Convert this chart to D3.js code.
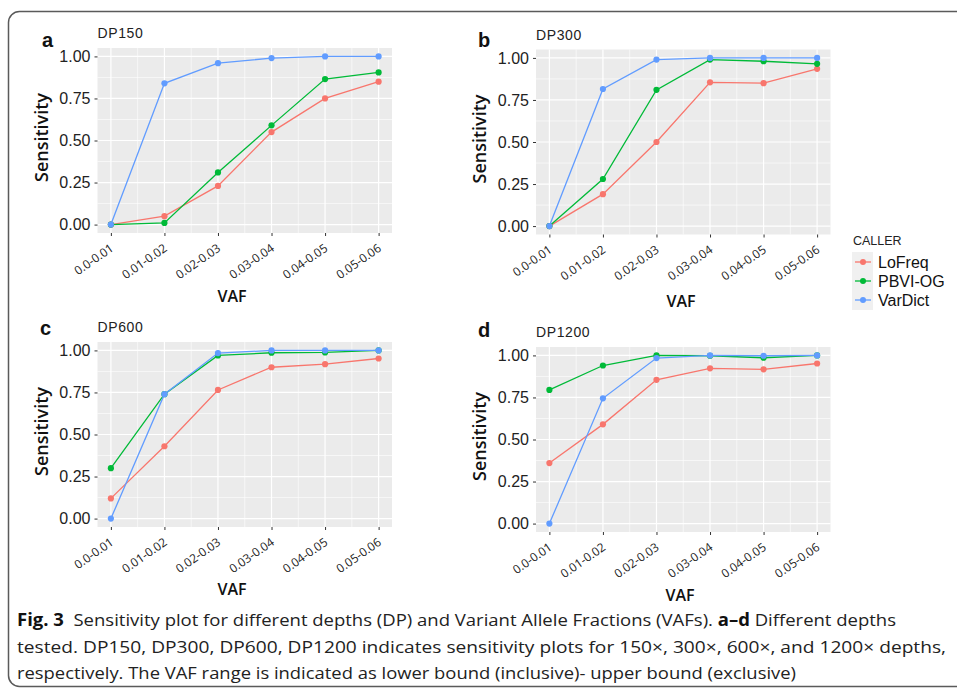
<!DOCTYPE html>
<html>
<head>
<meta charset="utf-8">
<script src="https://cdn.jsdelivr.net/npm/d3@7"></script>
<style>
body { margin: 0; background: #fff; }
svg { display: block; }
</style>
</head>
<body>
<svg width="957" height="691"></svg>
<script>
// categories and values
const vafBins = ["0.0-0.01", "0.01-0.02", "0.02-0.03", "0.03-0.04", "0.04-0.05", "0.05-0.06"];
const callers = ["LoFreq", "PBVI-OG", "VarDict"];
const yTicks = [0, 0.25, 0.5, 0.75, 1];

const dp150LoFreq = [0, 0.05, 0.23, 0.55, 0.75, 0.85];
const dp150Pbvi = [0, 0.01, 0.31, 0.59, 0.865, 0.905];
const dp150VarDict = [0, 0.84, 0.96, 0.99, 1.0, 1.0];

const dp300LoFreq = [0, 0.19, 0.5, 0.855, 0.85, 0.935];
const dp300Pbvi = [0, 0.28, 0.81, 0.99, 0.98, 0.965];
const dp300VarDict = [0, 0.815, 0.99, 1.0, 1.0, 1.0];

const dp600LoFreq = [0.12, 0.43, 0.765, 0.9, 0.918, 0.952];
const dp600Pbvi = [0.3, 0.74, 0.97, 0.986, 0.988, 1.0];
const dp600VarDict = [0, 0.74, 0.984, 1.0, 1.0, 1.0];

const dp1200LoFreq = [0.36, 0.59, 0.855, 0.923, 0.917, 0.952];
const dp1200Pbvi = [0.795, 0.94, 1.0, 0.998, 0.986, 1.0];
const dp1200VarDict = [0, 0.745, 0.984, 1.0, 0.998, 1.0];

const colors = ["#F8766D", "#00BA38", "#619CFF"];

const svg = d3.select("svg");

// figure frame
svg.append("rect")
    .attr("x", 8.5).attr("y", 11.5)
    .attr("width", 1000).attr("height", 675)
    .attr("rx", 11)
    .attr("fill", "none")
    .attr("stroke", "#5a5a5a")
    .attr("stroke-width", 1.5);

const panelW = 294.5, panelH = 185;

const panels = [
    { letter: "a", title: "DP150", series: [dp150LoFreq, dp150Pbvi, dp150VarDict],
      left: 97.5, top: 48, lx: 42, ly: 47, vafX: 232, vafY: 302 },
    { letter: "b", title: "DP300", series: [dp300LoFreq, dp300Pbvi, dp300VarDict],
      left: 536, top: 49.5, lx: 478, ly: 47, vafX: 681, vafY: 307 },
    { letter: "c", title: "DP600", series: [dp600LoFreq, dp600Pbvi, dp600VarDict],
      left: 97.5, top: 342, lx: 40, ly: 335, vafX: 232, vafY: 595 },
    { letter: "d", title: "DP1200", series: [dp1200LoFreq, dp1200Pbvi, dp1200VarDict],
      left: 536, top: 347, lx: 478, ly: 337, vafX: 680, vafY: 601 }
];

function drawPanel(p) {
    const x = d3.scaleLinear().domain([0.75, 6.25]).range([0, panelW]);
    const y = d3.scaleLinear().domain([-0.05, 1.05]).range([panelH, 0]);

    const g = svg.append("g")
        .attr("transform", `translate(${p.left}, ${p.top})`);

    g.append("rect")
        .attr("width", panelW).attr("height", panelH)
        .attr("fill", "#EBEBEB");

    // minor grid
    g.selectAll(".minor-x").data([1.5, 2.5, 3.5, 4.5, 5.5]).enter()
        .append("line")
        .attr("x1", d => x(d)).attr("x2", d => x(d))
        .attr("y1", 0).attr("y2", panelH)
        .attr("stroke", "#fff").attr("stroke-width", 0.6);
    g.selectAll(".minor-y").data([0.125, 0.375, 0.625, 0.875]).enter()
        .append("line")
        .attr("y1", d => y(d)).attr("y2", d => y(d))
        .attr("x1", 0).attr("x2", panelW)
        .attr("stroke", "#fff").attr("stroke-width", 0.6);

    // major grid
    g.selectAll(".major-x").data(d3.range(1, 7)).enter()
        .append("line")
        .attr("x1", d => x(d)).attr("x2", d => x(d))
        .attr("y1", 0).attr("y2", panelH)
        .attr("stroke", "#fff").attr("stroke-width", 1.2);
    g.selectAll(".major-y").data(yTicks).enter()
        .append("line")
        .attr("y1", d => y(d)).attr("y2", d => y(d))
        .attr("x1", 0).attr("x2", panelW)
        .attr("stroke", "#fff").attr("stroke-width", 1.2);

    // axes
    const yAxis = g.append("g")
        .call(d3.axisLeft(y).tickValues(yTicks).tickSize(3).tickPadding(4).tickFormat(d3.format(".2f")));
    yAxis.select(".domain").remove();
    yAxis.selectAll("line").attr("stroke", "#333");
    yAxis.selectAll("text")
        .attr("fill", "#222")
        .style("font-family", "'Liberation Sans', Arial, sans-serif")
        .style("font-size", "16px");

    const xAxis = g.append("g")
        .attr("transform", `translate(0, ${panelH})`)
        .call(d3.axisBottom(x).tickValues(d3.range(1, 7)).tickSize(3).tickFormat(i => vafBins[i - 1]));
    xAxis.select(".domain").remove();
    xAxis.selectAll("line").attr("stroke", "#333");
    xAxis.selectAll("text")
        .attr("x", 0).attr("y", 0).attr("dy", 0)
        .attr("text-anchor", "end")
        .attr("transform", "translate(3, 17) rotate(-35)")
        .attr("fill", "#222")
        .style("font-family", "'Open Sans', sans-serif")
        .style("font-size", "12px");

    // lines and points, drawn in caller order
    const line = d3.line().x((d, i) => x(i + 1)).y(d => y(d));
    p.series.forEach((vals, k) => {
        g.append("path")
            .datum(vals)
            .attr("d", line)
            .attr("fill", "none")
            .attr("stroke", colors[k])
            .attr("stroke-width", 1.3);
        g.selectAll(".pt" + k).data(vals).enter()
            .append("circle")
            .attr("cx", (d, i) => x(i + 1))
            .attr("cy", d => y(d))
            .attr("r", 3.1)
            .attr("fill", colors[k]);
    });

    // titles
    g.append("text")
        .attr("x", 0).attr("y", -10)
        .attr("fill", "#222")
        .style("font-family", "'Liberation Sans', Arial, sans-serif")
        .style("font-size", "14px")
        .style("letter-spacing", "0.6px")
        .text(p.title);

    g.append("text")
        .attr("transform", `translate(-50, ${panelH / 2 - 3}) rotate(-90)`)
        .attr("text-anchor", "middle")
        .attr("fill", "#111")
        .style("font-family", "'Open Sans', sans-serif")
        .style("font-weight", "600")
        .style("font-size", "18px")
        .text("Sensitivity");

    svg.append("text")
        .attr("x", p.lx).attr("y", p.ly)
        .attr("fill", "#111")
        .style("font-family", "'Liberation Sans', Arial, sans-serif")
        .style("font-weight", "bold")
        .style("font-size", "20px")
        .text(p.letter);

    svg.append("text")
        .attr("x", p.vafX).attr("y", p.vafY)
        .attr("text-anchor", "middle")
        .attr("fill", "#111")
        .style("font-family", "'Open Sans', sans-serif")
        .style("font-weight", "600")
        .style("font-size", "16px")
        .text("VAF");
}

panels.forEach(drawPanel);

// legend
const legend = svg.append("g").attr("transform", "translate(852, 0)");
legend.append("text")
    .attr("x", 1).attr("y", 245)
    .attr("fill", "#222")
    .style("font-family", "'Liberation Sans', Arial, sans-serif")
    .style("font-size", "12.5px")
    .text("CALLER");

const keyY = d3.scalePoint().domain(callers).range([262, 300]);
legend.append("rect")
    .attr("x", 0).attr("y", 252)
    .attr("width", 21).attr("height", 58)
    .attr("fill", "#F0F0F0");
callers.forEach((c, k) => {
    legend.append("line")
        .attr("x1", 3).attr("x2", 19)
        .attr("y1", keyY(c)).attr("y2", keyY(c))
        .attr("stroke", colors[k]).attr("stroke-width", 1.3);
    legend.append("circle")
        .attr("cx", 11).attr("cy", keyY(c)).attr("r", 3)
        .attr("fill", colors[k]);
    legend.append("text")
        .attr("x", 26).attr("y", keyY(c) + 5.5)
        .attr("fill", "#111")
        .style("font-family", "'Liberation Sans', Arial, sans-serif")
        .style("font-size", "16px")
        .text(c);
});

// caption
const captionLines = [
    [["Fig. 3", true], ["  Sensitivity plot for different depths (DP) and Variant Allele Fractions (VAFs). ", false], ["a\u2013d", true], [" Different depths", false]],
    [["tested. DP150, DP300, DP600, DP1200 indicates sensitivity plots for 150\u00d7, 300\u00d7, 600\u00d7, and 1200\u00d7 depths,", false]],
    [["respectively. The VAF range is indicated as lower bound (inclusive)- upper bound (exclusive)", false]]
];
const captionEnds = [896, 946, 796];
const captionY = [626, 653, 679];

captionLines.forEach((parts, i) => {
    const t = svg.append("text")
        .attr("x", 17).attr("y", captionY[i])
        .attr("fill", "#222")
        .attr("textLength", captionEnds[i] - 17)
        .attr("lengthAdjust", "spacingAndGlyphs")
        .style("font-family", "'Open Sans', sans-serif")
        .style("font-size", "17px")
        .style("white-space", "pre");
    parts.forEach(([s, bold]) => {
        t.append("tspan")
            .style("font-weight", bold ? "bold" : "normal")
            .attr("fill", bold ? "#111" : "#222")
            .text(s);
    });
});
</script>
</body>
</html>
